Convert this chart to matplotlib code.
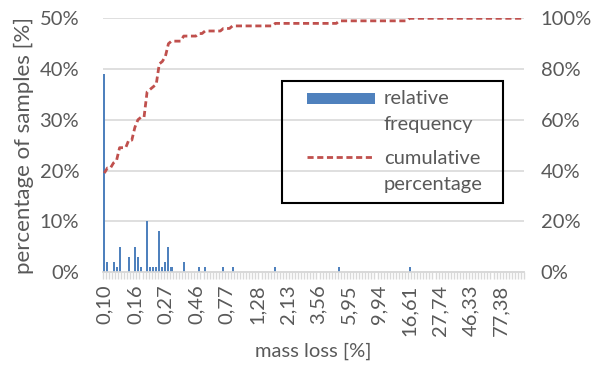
import numpy as np
import matplotlib
matplotlib.use("Agg")
from matplotlib import pyplot as plt
from matplotlib.patches import Rectangle
from matplotlib.lines import Line2D

plt.rcParams['font.family'] = ['Lato', 'DejaVu Sans']

# number of mass-loss classes on the category axis
n_cat = 138
# classes that hold samples and their share [%]
bar_cats = [0, 1, 3, 4, 5, 8, 10, 11, 12, 14, 15, 16, 17, 18, 19, 20, 21, 22,
            26, 31, 33, 39, 42, 56, 77, 100]
bar_vals = [39, 2, 2, 1, 5, 3, 5, 3, 1, 10, 1, 1, 1, 8, 1, 2, 5, 1,
            2, 1, 1, 1, 1, 1, 1, 1]
# tick labels shown every 10 classes
tick_labels = ['0,10', '0,16', '0,27', '0,46', '0,77', '1,28', '2,13', '3,56',
               '5,95', '9,94', '16,61', '27,74', '46,33', '77,38']
label_step = 10

freq = np.zeros(n_cat)
freq[bar_cats] = bar_vals
cum = np.cumsum(freq)

grey = '#595959'
grid = '#d9d9d9'
blue = '#4f81bd'
red = '#c0504d'
dash = (0, (2.2, 1.3))
fs = 14.5

W, H = 607, 367
fig = plt.figure(figsize=(W / 100, H / 100), dpi=100)
ax = fig.add_axes([0.1694, 0.2589, 0.6939, 0.6912])
ax2 = ax.twinx()

x = np.arange(n_cat)
ax.bar(x, freq, width=0.66, color=blue, zorder=3)
ax2.plot(x, cum, color=red, lw=2, ls=dash, zorder=4)

ax.set_xlim(-0.5, n_cat - 0.5)
ax.set_ylim(0, 50)
ax2.set_ylim(0, 100)

ax.set_yticks(np.arange(0, 51, 10))
ax.set_yticklabels([f'{v}%' for v in range(0, 51, 10)])
ax2.set_yticks(np.arange(0, 101, 20))
ax2.set_yticklabels([f'{v}%' for v in range(0, 101, 20)])
ax.yaxis.grid(True, color=grid, lw=1.2, zorder=0)
ax.set_axisbelow(True)

ax.set_xticks(np.arange(len(tick_labels)) * label_step)
ax.set_xticklabels(tick_labels, rotation=90)
ax.set_xticks(np.arange(n_cat + 1) - 0.5, minor=True)
ax.tick_params(axis='x', which='major', length=0, pad=9, labelsize=fs, labelcolor=grey)
ax.tick_params(axis='x', which='minor', length=5, width=1, color=grid)
ax.tick_params(axis='y', length=0, pad=17, labelsize=fs, labelcolor=grey)
ax2.tick_params(axis='y', length=0, pad=12, labelsize=fs, labelcolor=grey)

for a in (ax, ax2):
    for s in ('top', 'left', 'right'):
        a.spines[s].set_visible(False)
    a.spines['bottom'].set_color(grid)
    a.spines['bottom'].set_linewidth(1.2)

ax.set_xlabel('mass loss [%]', fontsize=14.5, color=grey, labelpad=5)
ax.set_ylabel('percentage of samples [%]', fontsize=16, color=grey, labelpad=4)

# legend box drawn in figure pixels, markers next to the first text line
def fx(px):
    return px / W

def fy(py):
    return 1 - py / H

tf = fig.transFigure
fig.patches.append(Rectangle((fx(282), fy(203)), fx(503) - fx(282), fy(81) - fy(203),
                             transform=tf, fill=False, edgecolor='black', lw=1.5))
fig.patches.append(Rectangle((fx(307), fy(104)), fx(375) - fx(307), fy(93) - fy(104),
                             transform=tf, facecolor=blue, edgecolor='none'))
fig.lines.append(Line2D([fx(307), fx(375)], [fy(157), fy(157)], transform=tf,
                        color=red, lw=2, ls=dash))
fig.text(fx(384), fy(90), 'relative\nfrequency', fontsize=fs, color=grey,
         va='top', ha='left', linespacing=1.65)
fig.text(fx(384), fy(150), 'cumulative\npercentage', fontsize=fs, color=grey,
         va='top', ha='left', linespacing=1.65)

fig.savefig('out.png', dpi=100)
